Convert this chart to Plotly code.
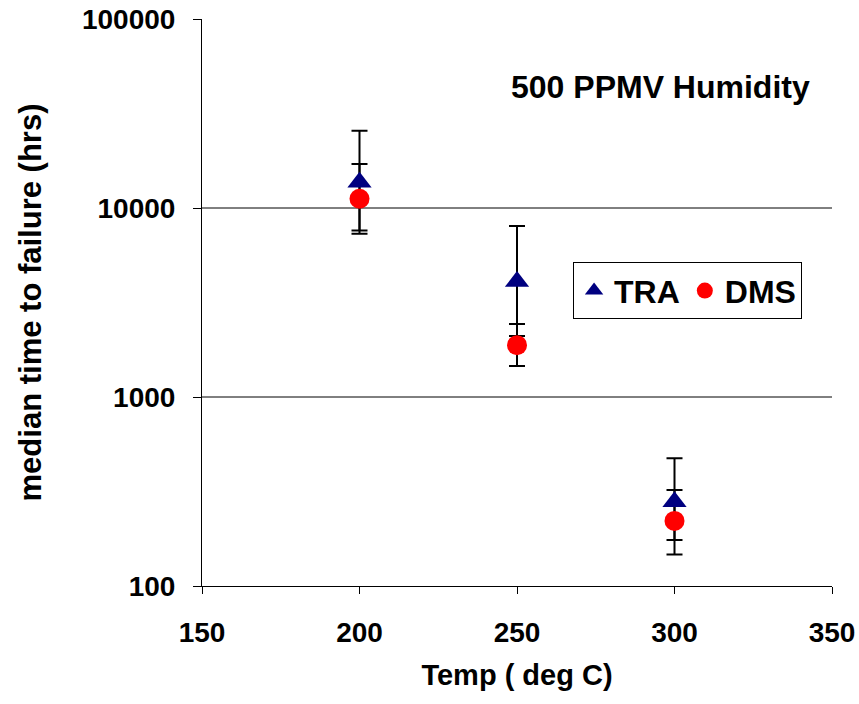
import plotly.graph_objects as go

temps = [200, 250, 300]
tra = [13700, 4080, 279]
tra_hi = [25600, 8040, 474]
tra_lo = [7600, 2100, 175]
dms = [11200, 1880, 221]
dms_hi = [17100, 2430, 322]
dms_lo = [7300, 1460, 147]

x_ticks = [150, 200, 250, 300, 350]
y_ticks = [100, 1000, 10000, 100000]
y_tick_text = ["100", "1000", "10000", "100000"]
grid_lines = [1000, 10000]

FONT = "Liberation Sans, Arial, sans-serif"

def err(vals, hi, lo):
    return dict(type="data", symmetric=False,
                array=[h - v for h, v in zip(hi, vals)],
                arrayminus=[v - l for v, l in zip(vals, lo)],
                color="black", thickness=2, width=8)

fig = go.Figure()
# error bars first (below all markers)
fig.add_trace(go.Scatter(x=temps, y=tra, mode="markers", marker=dict(opacity=0, size=1),
                         error_y=err(tra, tra_hi, tra_lo), showlegend=False, hoverinfo="skip"))
fig.add_trace(go.Scatter(x=temps, y=dms, mode="markers", marker=dict(opacity=0, size=1),
                         error_y=err(dms, dms_hi, dms_lo), showlegend=False, hoverinfo="skip"))
fig.add_trace(go.Scatter(x=temps, y=tra, mode="markers", name="TRA",
                         marker=dict(symbol="triangle-up", size=21, color="#000080")))
fig.add_trace(go.Scatter(x=temps, y=dms, mode="markers", name="DMS",
                         marker=dict(symbol="circle", size=20, color="#FF0000")))

for g in grid_lines:
    fig.add_shape(type="line", xref="paper", x0=0, x1=1, yref="y", y0=g, y1=g,
                  line=dict(color="black", width=1), layer="below")

fig.add_annotation(text="<b>500 PPMV Humidity</b>", xref="paper", yref="paper",
                   x=0.968, y=0.880, xanchor="right", yanchor="middle", showarrow=False,
                   font=dict(family=FONT, size=32, color="black"))

fig.update_layout(
    width=859, height=704,
    margin=dict(l=202, r=27, t=19, b=118),
    paper_bgcolor="white", plot_bgcolor="white",
    font=dict(family=FONT, color="black"),
    legend=dict(orientation="h", x=0.589, y=0.571, xanchor="left", yanchor="top",
                bordercolor="black", borderwidth=1, bgcolor="white",
                font=dict(family=FONT, size=32, color="black", weight="bold"),
                itemwidth=30, tracegroupgap=0),
    xaxis=dict(range=[150, 350], tickvals=x_ticks, showgrid=False, zeroline=False,
               showline=True, linecolor="black", linewidth=1, automargin=False,
               ticks="outside", ticklen=7, tickcolor="black", ticklabelstandoff=14,
               tickfont=dict(family=FONT, size=28, color="black", weight="bold"),
               title=dict(text="<b>Temp ( deg C)</b>", font=dict(family=FONT, size=29, color="black"),
                          standoff=18)),
    yaxis=dict(type="log", range=[2, 5], tickvals=y_ticks, ticktext=y_tick_text,
               showgrid=False, zeroline=False, automargin=False,
               showline=True, linecolor="black", linewidth=1,
               ticks="outside", ticklen=8, tickcolor="black", ticklabelstandoff=12,
               tickfont=dict(family=FONT, size=28, color="black", weight="bold"),
               title=dict(text="<b>median time to failure (hrs)</b>",
                          font=dict(family=FONT, size=31, color="black"), standoff=31)),
)

fig.write_html("out.html")
